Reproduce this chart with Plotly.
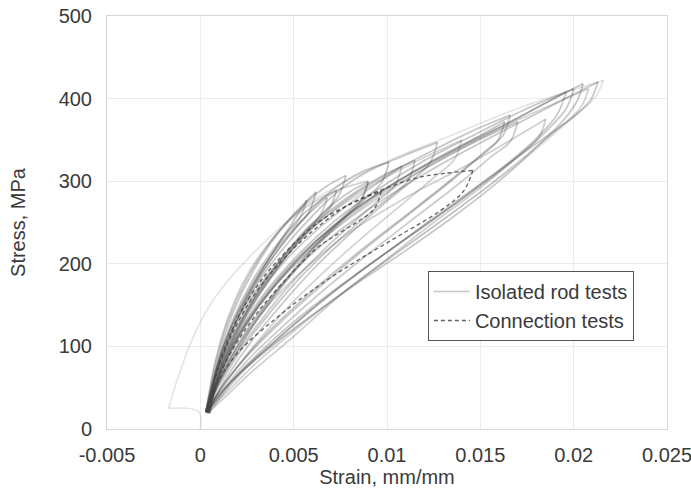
import plotly.graph_objects as go

# ---------------- data (strain in mm/mm, stress in MPa) ----------------
rodA_strain = [0.0003, 0.0008, 0.0015, 0.0025, 0.0038, 0.0050, 0.0062,
               0.0058, 0.0051, 0.0042, 0.0033, 0.0024, 0.0015, 0.0008, 0.0003,
               0.0008, 0.0016, 0.0027, 0.0040, 0.0053, 0.0064, 0.0076, 0.0088, 0.0101,
               0.0097, 0.0088, 0.0075, 0.0060, 0.0045, 0.0031, 0.0018, 0.0008, 0.0003,
               0.0009, 0.0018, 0.0030, 0.0045, 0.0062, 0.0080, 0.0100, 0.0127, 0.0145, 0.0166,
               0.0162, 0.0153, 0.0135, 0.0112, 0.0088, 0.0065, 0.0043, 0.0024, 0.0010, 0.0004,
               0.0010, 0.0020, 0.0034, 0.0052, 0.0074, 0.0100, 0.0130, 0.0166, 0.0185, 0.0205,
               0.0202, 0.0195, 0.0180, 0.0160, 0.0135, 0.0110, 0.0085, 0.0060, 0.0038, 0.0020, 0.0008, 0.0004]
rodA_stress = [20, 78, 132, 182, 228, 260, 287,
               262, 244, 218, 188, 152, 108, 64, 20,
               70, 120, 168, 212, 248, 276, 298, 313, 323,
               298, 278, 250, 215, 176, 134, 88, 48, 20,
               66, 114, 162, 206, 247, 280, 308, 340, 360, 380,
               355, 337, 303, 262, 220, 177, 132, 87, 46, 20,
               62, 110, 158, 205, 250, 292, 332, 372, 395, 418,
               398, 375, 341, 300, 256, 216, 178, 138, 100, 65, 36, 20]

rodB_strain = [0.0004, 0.0009, 0.0017, 0.0028, 0.0042, 0.0056, 0.0067, 0.0078,
               0.0074, 0.0066, 0.0055, 0.0043, 0.0031, 0.0020, 0.0010, 0.0004,
               0.0009, 0.0018, 0.0030, 0.0045, 0.0060, 0.0075, 0.0090, 0.0108, 0.0127,
               0.0123, 0.0114, 0.0098, 0.0080, 0.0062, 0.0044, 0.0028, 0.0014, 0.0004,
               0.0010, 0.0020, 0.0034, 0.0052, 0.0072, 0.0095, 0.0120, 0.0150, 0.0175, 0.0200,
               0.0196, 0.0185, 0.0165, 0.0140, 0.0115, 0.0090, 0.0065, 0.0042, 0.0022, 0.0008, 0.0004]
rodB_stress = [21, 80, 138, 190, 238, 272, 293, 307,
               282, 262, 234, 200, 160, 116, 68, 21,
               72, 124, 174, 220, 258, 290, 312, 330, 347,
               322, 302, 272, 236, 197, 152, 108, 62, 21,
               66, 114, 163, 210, 252, 290, 325, 360, 388, 412,
               388, 360, 320, 278, 238, 198, 155, 110, 70, 34, 21]

rodC_strain = [0.0005, 0.0010, 0.0018, 0.0028, 0.0040, 0.0050, 0.0057,
               0.0053, 0.0046, 0.0038, 0.0029, 0.0020, 0.0012, 0.0007, 0.0005,
               0.0010, 0.0019, 0.0030, 0.0043, 0.0057, 0.0070, 0.0080, 0.0090,
               0.0086, 0.0078, 0.0066, 0.0053, 0.0040, 0.0027, 0.0015, 0.0006, 0.0004,
               0.0010, 0.0020, 0.0034, 0.0050, 0.0068, 0.0090, 0.0115, 0.0140, 0.0163,
               0.0159, 0.0150, 0.0132, 0.0110, 0.0087, 0.0064, 0.0042, 0.0023, 0.0009, 0.0004,
               0.0010, 0.0021, 0.0036, 0.0055, 0.0078, 0.0105, 0.0135, 0.0170, 0.0192, 0.0213,
               0.0209, 0.0200, 0.0184, 0.0160, 0.0130, 0.0100, 0.0075, 0.0050, 0.0030, 0.0015, 0.0005]
rodC_stress = [19, 70, 124, 172, 218, 252, 277,
               254, 236, 210, 178, 140, 98, 55, 19,
               66, 116, 162, 205, 242, 270, 287, 299,
               276, 258, 232, 200, 165, 124, 80, 40, 19,
               60, 108, 156, 200, 240, 278, 312, 343, 372,
               348, 330, 296, 257, 216, 172, 127, 83, 42, 19,
               58, 106, 154, 202, 246, 288, 328, 370, 396, 420,
               398, 378, 352, 313, 264, 214, 172, 126, 86, 50, 20]

rodD_strain = [0.0003, 0.0009, 0.0017, 0.0028, 0.0042, 0.0056, 0.0073,
               0.0069, 0.0061, 0.0050, 0.0039, 0.0027, 0.0017, 0.0008, 0.0003,
               0.0009, 0.0018, 0.0030, 0.0045, 0.0062, 0.0080, 0.0097, 0.0115,
               0.0111, 0.0102, 0.0087, 0.0070, 0.0053, 0.0037, 0.0022, 0.0010, 0.0003,
               0.0010, 0.0020, 0.0034, 0.0052, 0.0074, 0.0100, 0.0130, 0.0163, 0.0196,
               0.0191, 0.0180, 0.0160, 0.0136, 0.0110, 0.0085, 0.0060, 0.0038, 0.0020, 0.0008, 0.0004]
rodD_stress = [22, 76, 130, 180, 226, 262, 289,
               266, 248, 220, 188, 148, 104, 58, 22,
               68, 118, 166, 210, 250, 282, 306, 325,
               300, 282, 254, 220, 182, 140, 96, 52, 22,
               64, 112, 160, 207, 250, 292, 330, 368, 408,
               380, 352, 313, 272, 230, 190, 148, 106, 66, 33, 22]

rodE_strain = [0.0004, 0.0010, 0.0020, 0.0035, 0.0055, 0.0080, 0.0110, 0.0145, 0.0185,
               0.0181, 0.0170, 0.0150, 0.0125, 0.0100, 0.0075, 0.0050, 0.0028, 0.0012, 0.0004]
rodE_stress = [20, 58, 100, 146, 192, 238, 280, 322, 375,
               352, 330, 292, 250, 206, 162, 112, 70, 36, 20]

rodF_strain = [0.0000, -0.0001, -0.0017,
               -0.0012, -0.0005, 0.0003, 0.0012, 0.0025, 0.0040, 0.0057, 0.0080, 0.0102, 0.0135, 0.0170, 0.0216,
               0.0211, 0.0200, 0.0185, 0.0165, 0.0140, 0.0112, 0.0085, 0.0060, 0.0035, 0.0015, 0.0003]
rodF_stress = [0, 21, 25,
               62, 105, 142, 172, 205, 238, 272, 302, 326, 356, 388, 422,
               400, 378, 348, 312, 270, 224, 180, 138, 94, 55, 24]

rodG_strain = [0.0004, 0.0009, 0.0017, 0.0028, 0.0042, 0.0056, 0.0068,
               0.0064, 0.0056, 0.0046, 0.0035, 0.0024, 0.0014, 0.0007, 0.0004,
               0.0010, 0.0019, 0.0031, 0.0046, 0.0063, 0.0080, 0.0095, 0.0108,
               0.0104, 0.0095, 0.0080, 0.0063, 0.0047, 0.0032, 0.0018, 0.0008, 0.0004,
               0.0010, 0.0020, 0.0034, 0.0052, 0.0072, 0.0095, 0.0120, 0.0145, 0.0170,
               0.0166, 0.0156, 0.0138, 0.0115, 0.0090, 0.0066, 0.0044, 0.0024, 0.0010, 0.0004]
rodG_stress = [20, 74, 126, 176, 222, 256, 280,
               258, 240, 212, 180, 140, 96, 55, 20,
               68, 116, 162, 205, 242, 273, 298, 318,
               294, 276, 246, 210, 172, 130, 86, 46, 20,
               62, 110, 157, 203, 243, 282, 315, 345, 372,
               348, 330, 296, 256, 212, 168, 124, 80, 40, 20]

rodH_strain = [0.0003, 0.0008, 0.0015, 0.0025, 0.0040, 0.0055, 0.0072, 0.0090,
               0.0086, 0.0077, 0.0064, 0.0050, 0.0036, 0.0023, 0.0011, 0.0003,
               0.0009, 0.0018, 0.0031, 0.0048, 0.0068, 0.0090, 0.0112, 0.0140,
               0.0136, 0.0126, 0.0108, 0.0088, 0.0068, 0.0048, 0.0030, 0.0015, 0.0003,
               0.0010, 0.0020, 0.0035, 0.0055, 0.0078, 0.0105, 0.0135, 0.0170, 0.0208,
               0.0204, 0.0194, 0.0176, 0.0153, 0.0128, 0.0102, 0.0077, 0.0052, 0.0030, 0.0013, 0.0003]
rodH_stress = [21, 82, 136, 186, 234, 266, 288, 300,
               278, 258, 228, 192, 150, 106, 60, 21,
               72, 124, 172, 218, 258, 292, 320, 350,
               326, 306, 272, 234, 194, 150, 104, 60, 21,
               64, 112, 160, 208, 252, 294, 334, 374, 412,
               390, 368, 334, 292, 250, 208, 166, 122, 80, 42, 21]

connA_strain = [0.0003, 0.0009, 0.0018, 0.0030, 0.0045, 0.0062, 0.0080, 0.0100, 0.0118, 0.0146,
                0.0141, 0.0129, 0.0105, 0.0082, 0.0060, 0.0040, 0.0020, 0.0009, 0.0003]
connA_stress = [20, 70, 120, 166, 207, 243, 272, 292, 305, 313,
                288, 265, 232, 201, 168, 133, 92, 55, 20]

connB_strain = [0.0004, 0.0010, 0.0019, 0.0031, 0.0046, 0.0063, 0.0080, 0.0097,
                0.0093, 0.0085, 0.0075, 0.0063, 0.0047, 0.0031, 0.0017, 0.0007, 0.0004]
connB_stress = [22, 78, 130, 175, 215, 250, 272, 288,
                266, 252, 238, 220, 184, 142, 95, 48, 22]

x_tickvals = [-0.005, 0, 0.005, 0.01, 0.015, 0.02, 0.025]
x_ticktext = ["-0.005", "0", "0.005", "0.01", "0.015", "0.02", "0.025"]
y_tickvals = [0, 100, 200, 300, 400, 500]

rod_tests = [(rodA_strain, rodA_stress, 0.30), (rodB_strain, rodB_stress, 0.30),
             (rodC_strain, rodC_stress, 0.30), (rodD_strain, rodD_stress, 0.30),
             (rodE_strain, rodE_stress, 0.26), (rodF_strain, rodF_stress, 0.14),
             (rodG_strain, rodG_stress, 0.28), (rodH_strain, rodH_stress, 0.24)]
conn_tests = [(connA_strain, connA_stress), (connB_strain, connB_stress)]


def branches(xs, ys):
    """Split a cyclic path into monotonic-strain branches (loading / unloading)."""
    out, start = [], 0
    for i in range(1, len(xs) - 1):
        if (xs[i] - xs[i - 1]) * (xs[i + 1] - xs[i]) < 0:
            out.append((xs[start:i + 1], ys[start:i + 1]))
            start = i
    out.append((xs[start:], ys[start:]))
    return out


fig = go.Figure()
first = True
for xs, ys, alpha in rod_tests:
    for bx, by in branches(xs, ys):
        fig.add_trace(go.Scatter(
            x=bx, y=by, mode="lines", name="Isolated rod tests",
            legendgroup="rod", showlegend=first,
            line=dict(color=f"rgba(70,70,70,{alpha})", width=1.7, shape="spline"),
            hoverinfo="skip"))
        first = False

first = True
for xs, ys in conn_tests:
    for bx, by in branches(xs, ys):
        fig.add_trace(go.Scatter(
            x=bx, y=by, mode="lines", name="Connection tests",
            legendgroup="conn", showlegend=first,
            line=dict(color="rgba(70,70,70,0.85)", width=1.3, dash="4px,3px", shape="spline"),
            hoverinfo="skip"))
        first = False

font_family = "Liberation Sans, Arial, sans-serif"
fig.update_layout(
    width=691, height=492,
    margin=dict(l=107, r=24, t=16, b=63),
    paper_bgcolor="white", plot_bgcolor="white",
    font=dict(family=font_family, size=20, color="#3a3a3a"),
    showlegend=True,
    legend=dict(x=0.573, y=0.3826, xanchor="left", yanchor="top",
                bgcolor="white", bordercolor="#555555", borderwidth=1,
                font=dict(size=20, color="#3a3a3a"), tracegroupgap=0,
                itemwidth=36),
    xaxis=dict(range=[-0.005, 0.025], tickvals=x_tickvals, ticktext=x_ticktext,
               showgrid=True, gridcolor="#ececec", zeroline=False,
               showline=True, linecolor="#d6d6d6", linewidth=1, mirror=True,
               ticks="outside", ticklen=8, tickcolor="rgba(0,0,0,0)",
               ticklabeloverflow="allow", automargin=False,
               title=dict(text="Strain, mm/mm", standoff=0, font=dict(size=20))),
    yaxis=dict(range=[0, 500], tickvals=y_tickvals,
               showgrid=True, gridcolor="#ececec", zeroline=False,
               showline=True, linecolor="#d6d6d6", linewidth=1, mirror=True,
               ticks="outside", ticklen=10, tickcolor="rgba(0,0,0,0)",
               automargin=False,
               title=dict(text="Stress, MPa", standoff=27, font=dict(size=20))),
)

fig.write_html("out.html")
